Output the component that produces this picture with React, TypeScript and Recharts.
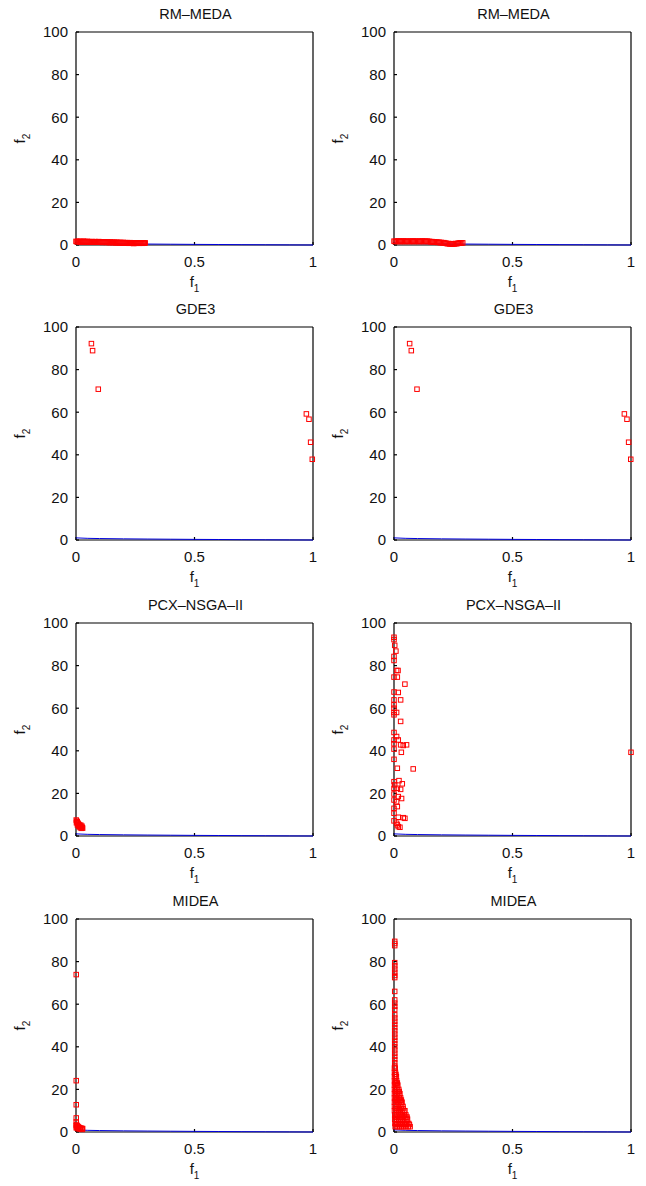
import { Label, Scatter, ScatterChart, XAxis, YAxis } from "recharts";

// axis ticks shared by every panel
const f1Ticks = [0, 0.5, 1];
const f2Ticks = [0, 20, 40, 60, 80, 100];

// true Pareto front (blue line)
const paretoFront: [number, number][] = [
  [0, 1.0], [0.05, 0.78], [0.1, 0.68], [0.2, 0.55], [0.3, 0.45], [0.4, 0.37],
  [0.5, 0.29], [0.6, 0.23], [0.7, 0.16], [0.8, 0.11], [0.9, 0.05], [1, 0],
];

const rmMedaLeft: [number, number][] = [
  [0.0, 1.7], [0.004, 1.5], [0.008, 1.8], [0.012, 1.6], [0.016, 1.4], [0.02, 1.7], [0.024, 1.5],
  [0.028, 1.6], [0.032, 1.8], [0.036, 1.4], [0.04, 1.6], [0.044, 1.5], [0.048, 1.7], [0.052, 1.4],
  [0.056, 1.6], [0.06, 1.5], [0.064, 1.3], [0.068, 1.6], [0.072, 1.5], [0.076, 1.4], [0.08, 1.6],
  [0.084, 1.3], [0.088, 1.5], [0.092, 1.4], [0.096, 1.6], [0.1, 1.3], [0.104, 1.5], [0.108, 1.4],
  [0.112, 1.2], [0.116, 1.5], [0.12, 1.3], [0.124, 1.4], [0.128, 1.2], [0.132, 1.4], [0.136, 1.3],
  [0.14, 1.1], [0.144, 1.4], [0.148, 1.2], [0.152, 1.3], [0.156, 1.1], [0.16, 1.3], [0.164, 1.2],
  [0.168, 1.0], [0.172, 1.3], [0.176, 1.1], [0.18, 1.2], [0.184, 1.0], [0.188, 1.2], [0.192, 1.1],
  [0.196, 0.9], [0.2, 1.2], [0.204, 1.0], [0.208, 1.1], [0.212, 0.9], [0.216, 1.1], [0.22, 1.0],
  [0.224, 0.8], [0.228, 1.1], [0.232, 0.9], [0.236, 1.0], [0.24, 0.8], [0.244, 0.7], [0.248, 1.0],
  [0.252, 0.9], [0.256, 0.8], [0.26, 1.0], [0.264, 0.9], [0.268, 0.8], [0.272, 1.0], [0.276, 0.9],
  [0.28, 0.8], [0.284, 1.0], [0.288, 0.9], [0.292, 1.0],
];

const rmMedaRight: [number, number][] = [
  [0.0, 1.8], [0.005, 1.6], [0.01, 1.8], [0.015, 1.7], [0.02, 1.9], [0.025, 1.6], [0.03, 1.8],
  [0.035, 1.7], [0.04, 1.9], [0.045, 1.6], [0.05, 1.8], [0.055, 1.7], [0.06, 1.8], [0.065, 1.6],
  [0.07, 1.8], [0.075, 1.7], [0.08, 1.9], [0.085, 1.6], [0.09, 1.8], [0.095, 1.7], [0.1, 1.8],
  [0.105, 1.6], [0.11, 1.8], [0.115, 1.7], [0.12, 1.9], [0.125, 1.6], [0.13, 1.8], [0.135, 1.7],
  [0.14, 1.8], [0.145, 1.6], [0.15, 1.7], [0.155, 1.5], [0.16, 1.6], [0.165, 1.4], [0.17, 1.5],
  [0.175, 1.3], [0.18, 1.4], [0.185, 1.2], [0.19, 1.3], [0.195, 1.1], [0.2, 1.2], [0.205, 1.0],
  [0.21, 1.1], [0.215, 0.9], [0.22, 0.8], [0.225, 0.6], [0.23, 0.7], [0.235, 0.5], [0.24, 0.6],
  [0.245, 0.4], [0.25, 0.6], [0.255, 0.5], [0.26, 0.7], [0.265, 0.6], [0.27, 0.8], [0.275, 0.9],
  [0.28, 1.0], [0.285, 0.9], [0.29, 1.0],
];

const gde3Left: [number, number][] = [
  [0.065, 92.2], [0.07, 88.9], [0.094, 70.8], [0.972, 59.2], [0.983, 56.7], [0.99, 45.9], [0.997, 37.9],
];

const gde3Right: [number, number][] = [
  [0.066, 92.2], [0.073, 88.9], [0.097, 70.8], [0.972, 59.2], [0.983, 56.7], [0.99, 45.9], [0.999, 37.9],
];

const pcxLeft: [number, number][] = [
  [0.001, 7.5], [0.003, 7.0], [0.005, 6.7], [0.002, 6.2], [0.007, 6.2], [0.009, 5.8], [0.011, 5.5],
  [0.006, 5.2], [0.013, 5.2], [0.015, 4.9], [0.018, 4.6], [0.02, 4.4], [0.023, 4.1], [0.026, 3.9],
  [0.028, 3.7], [0.012, 4.5], [0.017, 4.0], [0.022, 3.6], [0.025, 4.6], [0.02, 5.1],
];

const pcxRight: [number, number][] = [
  [0.0, 93.3], [0.0, 92.2], [0.003, 89.5], [0.008, 86.8], [0.0, 84.3], [0.0, 82.4], [0.011, 77.7],
  [0.017, 77.7], [0.0, 74.6], [0.014, 74.6], [0.046, 71.3], [0.0, 67.6], [0.018, 67.4], [0.0, 63.9],
  [0.028, 63.9], [0.0, 61.6], [0.0, 60.0], [0.0, 58.0], [0.011, 58.0], [0.0, 56.9], [0.028, 53.8],
  [0.0, 48.6], [0.011, 46.7], [0.0, 45.1], [0.018, 45.1], [0.0, 43.3], [0.028, 42.8], [0.039, 42.5],
  [0.053, 42.8], [0.0, 40.8], [0.031, 39.3], [0.0, 36.0], [0.014, 31.8], [0.081, 31.5], [0.0, 25.5],
  [0.021, 26.0], [0.035, 24.5], [0.003, 24.0], [0.0, 22.4], [0.014, 22.4], [0.028, 21.9], [0.0, 19.7],
  [0.018, 18.5], [0.032, 17.6], [0.0, 16.9], [0.011, 16.1], [0.0, 13.0], [0.014, 13.8], [0.0, 10.7],
  [0.018, 8.8], [0.039, 8.6], [0.046, 8.3], [0.0, 7.1], [0.011, 6.0], [0.014, 5.2], [0.018, 4.4],
  [0.025, 4.1], [1.0, 39.3],
];

const mideaLeft: [number, number][] = [
  [0.001, 73.9], [0.001, 24.1], [0.001, 12.8], [0.001, 6.6], [0.001, 4.7], [0.001, 3.0], [0.001, 2.0],
  [0.002, 3.5], [0.004, 3.0], [0.006, 2.8], [0.008, 2.5], [0.01, 2.3], [0.013, 2.1], [0.016, 1.9],
  [0.02, 1.8], [0.024, 1.7], [0.028, 1.6], [0.004, 2.0], [0.01, 1.5], [0.018, 1.4], [0.026, 1.2],
];

const mideaRight: [number, number][] = [
  [0.003, 89.5], [0.003, 88.5], [0.003, 87.5], [0.003, 79.5], [0.003, 78.0], [0.003, 76.5],
  [0.003, 75.0], [0.003, 73.5], [0.003, 72.5], [0.003, 66.0], [0.003, 62.0], [0.003, 60.5],
  [0.003, 59.0], [0.003, 57.5], [0.003, 55.0], [0.003, 53.5], [0.003, 52.0], [0.003, 50.5],
  [0.003, 49.0], [0.003, 47.5], [0.003, 46.0], [0.003, 44.5], [0.003, 43.0], [0.003, 41.5],
  [0.003, 40.0], [0.003, 38.5], [0.003, 37.0], [0.003, 35.5], [0.003, 34.0], [0.003, 32.5],
  [0.003, 31.0],
  [0.002, 30], [0.005, 30], [0.002, 28], [0.006, 28], [0.004, 27], [0.008, 27],
  [0.002, 26], [0.006, 26], [0.01, 26], [0.002, 24], [0.006, 24], [0.011, 24],
  [0.004, 23], [0.009, 23], [0.014, 23], [0.002, 22], [0.007, 22], [0.012, 22], [0.016, 22],
  [0.002, 20], [0.007, 20], [0.013, 20], [0.02, 20], [0.005, 19], [0.011, 19], [0.017, 19], [0.022, 19],
  [0.002, 18], [0.008, 18], [0.014, 18], [0.02, 18], [0.025, 18],
  [0.002, 16], [0.008, 16], [0.015, 16], [0.022, 16], [0.028, 16],
  [0.005, 15], [0.012, 15], [0.019, 15], [0.026, 15], [0.031, 15],
  [0.002, 14], [0.009, 14], [0.016, 14], [0.023, 14], [0.03, 14], [0.034, 14],
  [0.002, 12], [0.009, 12], [0.017, 12], [0.025, 12], [0.032, 12], [0.038, 12],
  [0.006, 11], [0.014, 11], [0.022, 11], [0.03, 11], [0.038, 11],
  [0.002, 10], [0.01, 10], [0.018, 10], [0.026, 10], [0.034, 10], [0.042, 10], [0.046, 10],
  [0.003, 8], [0.011, 8], [0.019, 8], [0.027, 8], [0.035, 8], [0.043, 8], [0.05, 8],
  [0.007, 7], [0.015, 7], [0.024, 7], [0.032, 7], [0.04, 7], [0.049, 7], [0.055, 7],
  [0.003, 6], [0.011, 6], [0.02, 6], [0.028, 6], [0.036, 6], [0.045, 6], [0.053, 6], [0.057, 6],
  [0.004, 4], [0.012, 4], [0.021, 4], [0.03, 4], [0.038, 4], [0.047, 4], [0.055, 4], [0.062, 4],
  [0.008, 3.5], [0.017, 3.5], [0.026, 3.5], [0.035, 3.5], [0.044, 3.5], [0.052, 3.5], [0.065, 3.5],
  [0.005, 2.5], [0.014, 2.5], [0.023, 2.5], [0.032, 2.5], [0.04, 2.5], [0.05, 2.5], [0.06, 2.5], [0.068, 2.5],
];

const titles = ["RM\u2013MEDA", "GDE3", "PCX\u2013NSGA\u2013II", "MIDEA"];
const leftSets = [rmMedaLeft, gde3Left, pcxLeft, mideaLeft];
const rightSets = [rmMedaRight, gde3Right, pcxRight, mideaRight];

const FONT = "'Liberation Sans', Arial, Helvetica, sans-serif";
const toXY = (pts: [number, number][]) => pts.map(([x, y]) => ({ x, y }));

const RedSquare = (props: any) => {
  const { cx, cy } = props;
  if (cx == null || cy == null) return <g />;
  return (
    <rect x={cx - 2.25} y={cy - 2.25} width={4.5} height={4.5} fill="none" stroke="#ff0000" strokeWidth={1} />
  );
};

function Panel({ title, points, left, top }: { title: string; points: [number, number][]; left: number; top: number }) {
  const axisStroke = { stroke: "#000", strokeWidth: 1.2 };
  return (
    <div style={{ position: "absolute", left, top, fontFamily: FONT }}>
      <ScatterChart width={323} height={296} margin={{ top: 31, right: 9, bottom: 21, left: 26 }}>
        <XAxis
          xAxisId="b"
          type="number"
          dataKey="x"
          domain={[0, 1]}
          ticks={f1Ticks}
          interval={0}
          height={30}
          tickSize={-3}
          tickMargin={14}
          axisLine={axisStroke}
          tickLine={axisStroke}
          tick={{ fill: "#111", fontSize: 15, fontFamily: FONT }}
        >
          <Label
            content={(p: any) => {
              const vb = p.viewBox;
              return (
                <text x={vb.x + vb.width / 2} y={vb.y + 42} textAnchor="middle" fontSize={15} fill="#111" fontFamily={FONT}>
                  f<tspan fontSize={10} dy={5}>1</tspan>
                </text>
              );
            }}
          />
        </XAxis>
        <XAxis
          xAxisId="t"
          orientation="top"
          type="number"
          dataKey="x"
          domain={[0, 1]}
          ticks={f1Ticks}
          interval={0}
          height={1}
          tickSize={-3}
          tick={false}
          axisLine={axisStroke}
          tickLine={axisStroke}
        >
          <Label
            content={(p: any) => {
              const vb = p.viewBox;
              return (
                <text x={vb.x + vb.width / 2 + 1} y={vb.y - 12} textAnchor="middle" fontSize={14.5} fill="#111" fontFamily={FONT}>
                  {title}
                </text>
              );
            }}
          />
        </XAxis>
        <YAxis
          yAxisId="l"
          type="number"
          dataKey="y"
          domain={[0, 100]}
          ticks={f2Ticks}
          interval={0}
          width={50}
          tickSize={-3}
          tickMargin={11}
          axisLine={axisStroke}
          tickLine={axisStroke}
          tick={{ fill: "#111", fontSize: 15, fontFamily: FONT }}
        >
          <Label
            content={(p: any) => {
              const vb = p.viewBox;
              const x = vb.x - 1;
              const y = vb.y + vb.height / 2;
              return (
                <text x={x} y={y} transform={`rotate(-90, ${x}, ${y})`} textAnchor="middle" fontSize={15} fill="#111" fontFamily={FONT}>
                  f<tspan fontSize={10} dy={5}>2</tspan>
                </text>
              );
            }}
          />
        </YAxis>
        <YAxis
          yAxisId="r"
          orientation="right"
          type="number"
          dataKey="y"
          domain={[0, 100]}
          ticks={f2Ticks}
          interval={0}
          width={1}
          tickSize={-3}
          tick={false}
          axisLine={axisStroke}
          tickLine={axisStroke}
        />
        <Scatter
          xAxisId="b"
          yAxisId="l"
          data={toXY(paretoFront)}
          line={{ stroke: "#0000dd", strokeWidth: 1 }}
          lineType="joint"
          shape={() => <g />}
          isAnimationActive={false}
        />
        <Scatter xAxisId="b" yAxisId="l" data={toXY(points)} shape={RedSquare} isAnimationActive={false} />
      </ScatterChart>
    </div>
  );
}

const rowTops = [0, 295, 591, 887];

export default function App() {
  return (
    <div style={{ position: "absolute", left: 0, top: 0, width: 646, height: 1186, background: "#fff" }}>
      {titles.map((t, i) => (
        <Panel key={`l${i}`} title={t} points={leftSets[i]} left={0} top={rowTops[i]} />
      ))}
      {titles.map((t, i) => (
        <Panel key={`r${i}`} title={t} points={rightSets[i]} left={318} top={rowTops[i]} />
      ))}
    </div>
  );
}
